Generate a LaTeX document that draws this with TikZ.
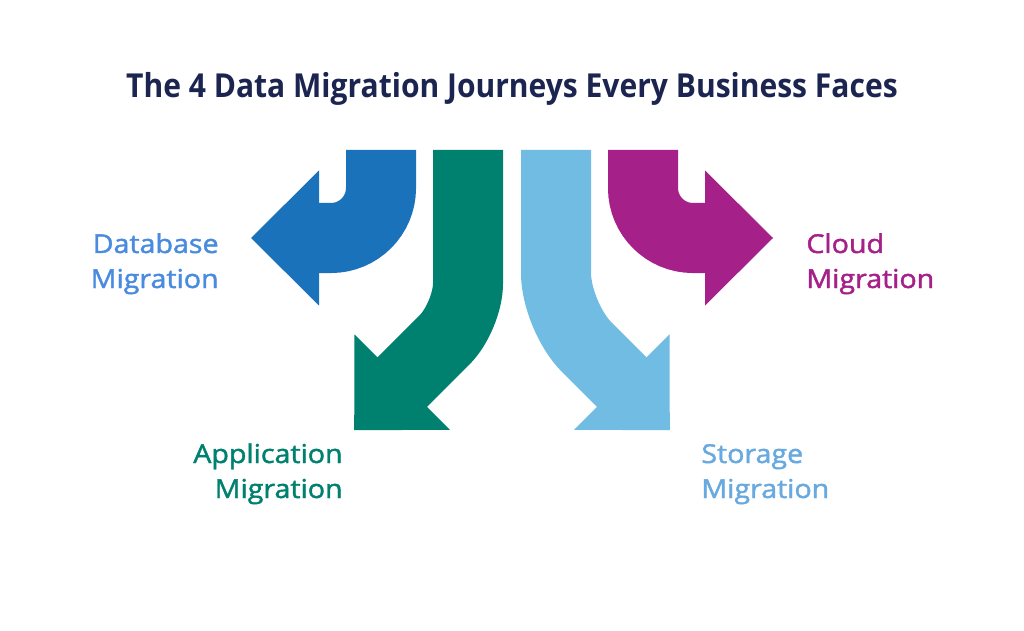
\documentclass[tikz,border=0pt]{standalone}
\usepackage{fontspec}
\setmainfont{Open Sans}
\newfontfamily\labfont[FakeBold=1.6,FakeStretch=1.1]{Open Sans}
\newfontfamily\titfont[FakeStretch=0.91]{Open Sans}
\definecolor{cblue}{HTML}{1A73BA}
\definecolor{cgreen}{HTML}{00806F}
\definecolor{clight}{HTML}{70BCE2}
\definecolor{cmag}{HTML}{A6208A}
\definecolor{cnavy}{HTML}{1B2550}
\definecolor{tblue}{HTML}{4A8BE0}
\definecolor{tlight}{HTML}{68AADF}
\begin{document}
\begin{tikzpicture}[x=0.5pt,y=-0.5pt,
  shaft/.style={line width=35pt},
  lab/.style={font=\labfont\fontsize{13}{16}\selectfont, inner sep=0pt}]
\useasboundingbox (0,0) rectangle (1024,631);
\fill[white] (0,0) rectangle (1024,631);
% Database (blue)
\draw[shaft,cblue,rounded corners=25pt] (381,150) -- (381,238) -- (315,238);
\fill[cblue] (319,170.5) -- (251,238) -- (319,305.5) -- cycle;
% Cloud (magenta)
\draw[shaft,cmag,rounded corners=25pt] (643,150) -- (643,238) -- (709,238);
\fill[cmag] (705,170.5) -- (773,238) -- (705,305.5) -- cycle;
% Application (green)
\draw[shaft,cgreen,rounded corners=16.5pt] (468,150) -- (468,316.4) -- (399.4,385);
\fill[cgreen] (354.5,334.4) -- (354.2,430.2) -- (450,429.8) -- cycle;
% Storage (light blue)
\draw[shaft,clight,rounded corners=21.7pt] (556,150) -- (556,316.4) -- (624.6,385);
\fill[clight] (669.5,334.4) -- (669.8,430.2) -- (574,429.8) -- cycle;
% texts
\node[font=\titfont\bfseries\fontsize{16.5}{20}\selectfont, text=cnavy, anchor=base, inner sep=0pt] (title) at (512,98) {The 4 Data Migration Journeys Every Business Faces};
\node[lab, text=tblue, anchor=base east] (db1) at (219,253) {Database};
\node[lab, text=tblue, anchor=base east] (db2) at (219,288) {Migration};
\node[lab, text=cgreen, anchor=base east] (ap1) at (343,463) {Application};
\node[lab, text=cgreen, anchor=base east] (ap2) at (343,498) {Migration};
\node[lab, text=tlight, anchor=base west] (st1) at (701,463) {Storage};
\node[lab, text=tlight, anchor=base west] (st2) at (701,498) {Migration};
\node[lab, text=cmag, anchor=base west] (cl1) at (806,253) {Cloud};
\node[lab, text=cmag, anchor=base west] (cl2) at (806,288) {Migration};
\end{tikzpicture}
\end{document}
